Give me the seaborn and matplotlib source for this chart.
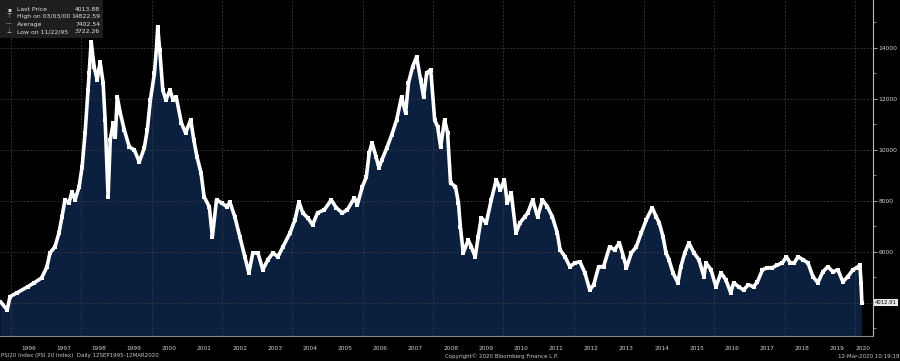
import matplotlib
matplotlib.use("Agg")
import matplotlib.pyplot as plt
import matplotlib.dates as mdates
from matplotlib.patches import Rectangle
import seaborn as sns
import pandas as pd

# ---------------- data ----------------
dates = [
    "1995-09-12", "1995-11-22", "1995-12-20", "1996-03-04", "1996-06-21", "1996-08-29", "1996-11-14",
    "1997-01-08", "1997-02-08", "1997-04-01", "1997-05-13", "1997-06-13", "1997-07-14", "1997-08-25",
    "1997-09-25", "1997-10-27", "1997-12-08",
    "1998-01-08", "1998-02-08", "1998-03-11", "1998-03-22", "1998-04-12", "1998-05-13", "1998-06-13",
    "1998-07-14", "1998-08-14", "1998-09-04", "1998-10-05", "1998-10-27", "1998-11-27", "1998-12-18",
    "1999-01-08", "1999-02-08", "1999-03-22", "1999-05-13", "1999-07-04", "1999-08-25", "1999-10-16",
    "1999-11-16", "1999-12-18",
    "2000-01-29", "2000-02-20", "2000-03-03", "2000-03-24", "2000-04-25", "2000-05-27", "2000-07-09",
    "2000-08-10", "2000-09-11", "2000-11-04", "2000-12-17",
    "2001-02-09", "2001-03-13", "2001-04-15", "2001-05-27", "2001-06-28", "2001-08-21", "2001-09-22",
    "2001-11-04", "2001-12-28",
    "2002-02-19", "2002-03-22", "2002-05-13", "2002-07-04", "2002-08-25", "2002-10-06", "2002-11-16",
    "2003-01-08", "2003-02-28", "2003-04-21", "2003-06-13", "2003-08-04", "2003-09-25", "2003-12-08",
    "2004-01-28", "2004-03-09", "2004-04-18", "2004-06-08", "2004-07-29", "2004-09-18", "2004-11-28",
    "2005-02-08", "2005-04-01", "2005-06-03", "2005-07-25", "2005-10-06", "2005-11-06", "2005-12-28",
    "2006-02-07", "2006-03-09", "2006-04-08", "2006-05-19", "2006-06-18", "2006-07-19", "2006-09-08",
    "2006-10-29", "2006-12-19",
    "2007-02-08", "2007-03-22", "2007-04-21", "2007-06-03", "2007-07-14", "2007-08-25", "2007-09-25",
    "2007-10-27", "2007-12-08",
    "2008-01-18", "2008-02-18", "2008-03-20", "2008-04-30", "2008-05-31", "2008-07-01", "2008-08-21",
    "2008-09-21", "2008-10-11", "2008-11-10",
    "2009-01-01", "2009-02-01", "2009-03-14", "2009-04-14", "2009-05-16", "2009-07-07", "2009-08-28",
    "2009-10-19", "2009-11-30",
    "2010-01-11", "2010-02-10", "2010-03-23", "2010-05-12", "2010-06-22", "2010-08-12", "2010-09-11",
    "2010-11-01", "2010-12-22",
    "2011-02-11", "2011-04-03", "2011-05-24", "2011-07-14", "2011-08-13", "2011-10-03", "2011-11-23",
    "2012-01-14", "2012-03-06", "2012-04-26", "2012-06-16", "2012-07-27", "2012-09-16", "2012-11-06",
    "2013-01-08", "2013-02-28", "2013-04-20", "2013-06-01", "2013-07-02", "2013-08-22", "2013-10-12",
    "2013-12-03",
    "2014-01-24", "2014-03-27", "2014-05-07", "2014-06-07", "2014-07-17", "2014-08-17", "2014-09-17",
    "2014-10-28", "2014-12-18",
    "2015-01-18", "2015-02-28", "2015-04-12", "2015-06-03", "2015-07-25", "2015-09-15", "2015-10-06",
    "2015-11-27",
    "2016-01-18", "2016-03-09", "2016-04-29", "2016-06-19", "2016-07-20", "2016-09-09", "2016-10-30",
    "2016-12-20",
    "2017-02-11", "2017-03-24", "2017-05-15", "2017-07-05", "2017-08-26", "2017-10-17", "2017-12-08",
    "2018-01-18", "2018-02-28", "2018-04-10", "2018-05-20", "2018-07-10", "2018-08-30", "2018-10-21",
    "2018-12-11",
    "2019-02-01", "2019-03-25", "2019-05-16", "2019-07-07", "2019-08-28", "2019-10-19", "2019-12-10",
    "2020-01-21", "2020-02-21", "2020-03-04", "2020-03-12",
]
values = [
    4050, 3722, 4240, 4400, 4630, 4790, 4980,
    5420, 5960, 6200, 6750, 7380, 8040, 7920,
    8360, 8040, 8560,
    9340, 10670, 12350, 13000, 14240, 13260, 12750,
    13450, 12630, 11180, 8160, 10390, 11060, 10510,
    12080, 11450, 10790, 10120, 10000, 9530, 10080,
    10790, 11960,
    13000, 14040, 14822, 13920, 12350, 11960, 12350,
    11960, 12080, 11060, 10670,
    11180, 10390, 9730, 9100, 8160, 7770, 6600,
    8040, 7920,
    7770, 7960, 7380, 6600, 5810, 5180, 5960,
    5960, 5300, 5690, 5960, 5810, 6200, 6750,
    7260, 7960, 7530, 7340, 7060, 7530, 7650,
    8040, 7730, 7530, 7650, 8120, 7850, 8560,
    8940, 9880, 10280, 9730, 9300, 9610, 10080,
    10590, 11180,
    12080, 11450, 12630, 13260, 13650, 12750, 12080,
    13020, 13140,
    11180, 10900, 10120, 11180, 10670, 8700, 8560,
    7920, 6980, 5960,
    6470, 6200, 5810, 6590, 7340, 7140, 8040,
    8830, 8430,
    8830, 7920, 8310, 6750, 7140, 7380, 7530,
    8040, 7380,
    8040, 7770, 7380, 6750, 6080, 5810, 5420,
    5570, 5610, 5180, 4510, 4710, 5420, 5420,
    6200, 6080, 6350, 5810, 5380, 5960, 6200,
    6750,
    7260, 7730, 7380, 7140, 6600, 5960, 5690,
    5180, 4790,
    5420, 5960, 6350, 5960, 5690, 5030, 5570,
    5300,
    4630, 5180, 4910, 4400, 4790, 4630, 4510,
    4710,
    4630, 4830, 5300, 5380, 5380, 5490, 5570,
    5810, 5570, 5570, 5810, 5690, 5570, 5030,
    4790,
    5220, 5420, 5220, 5300, 4830, 5030, 5300,
    5380, 5490, 4790, 4013.88,
]

y_ticks = [6000, 8000, 10000, 12000, 14000]
y_grid = [4000, 6000, 8000, 10000, 12000, 14000]
y_minor = [3000, 5000, 7000, 9000, 11000, 13000, 15000]
years = list(range(1996, 2021))
year_labels = [str(y) for y in years]

legend_names = ["Last Price", "High on 03/03/00", "Average", "Low on 11/22/95"]
legend_values = ["4013.88", "14822.59", "7402.54", "3722.26"]
legend_icons = ["\u25aa", "\u22a4", "\u2014", "\u22a5"]
last_label = "4012.91"
footer_left = "PSI20 Index (PSI 20 Index)  Daily 12SEP1995-12MAR2020"
footer_mid = "Copyright\u00a9 2020 Bloomberg Finance L.P."
footer_right = "12-Mar-2020 10:19:18"

# ---------------- figure ----------------
sns.set_style("dark")
plt.rcParams["font.family"] = ["DejaVu Sans"]

W, H = 900, 361
fig = plt.figure(figsize=(W / 100, H / 100), dpi=100, facecolor="black")
ax = fig.add_axes([0, (H - 336) / H, 873 / W, 336 / H])
ax.set_facecolor("black")

df = pd.DataFrame({"date": pd.to_datetime(dates), "value": values})

ax.fill_between(df["date"], df["value"], 0, color="#0b1f3e", lw=0, zorder=1)

# grid
for g in y_grid:
    ax.axhline(g, color="#3e3e3e", lw=0.6, ls=(0, (2, 2)), zorder=2)
for y in years:
    if y % 2 == 0:
        ax.axvline(pd.Timestamp(f"{y}-01-01"), color="#3e3e3e", lw=0.6, ls=(0, (2, 2)), zorder=2)

sns.lineplot(data=df, x="date", y="value", ax=ax, color="white", lw=2.6,
             marker="s", markersize=2.4, markeredgewidth=0, zorder=3)

ax.set_xlim(pd.Timestamp("1995-09-08"), pd.Timestamp("2020-07-06"))
ax.set_ylim(2700, 15880)
ax.set_xlabel("")
ax.set_ylabel("")

# y axis on the right
ax.yaxis.tick_right()
ax.set_yticks(y_ticks)
ax.set_yticklabels([str(v) for v in y_ticks])
ax.set_yticks(y_minor, minor=True)
ax.tick_params(axis="y", which="major", direction="out", length=3, width=0.6,
               color="#bbbbbb", labelcolor="#d8d8d8", labelsize=4.3, pad=1)
ax.tick_params(axis="y", which="minor", direction="out", length=2, width=0.5, color="#bbbbbb")

# x axis: year boundary ticks + mid-year labels
ax.set_xticks([pd.Timestamp(f"{y}-01-01") for y in years])
ax.set_xticklabels([""] * len(years))
label_pos = [pd.Timestamp(f"{y}-07-02") for y in years[:-1]] + [pd.Timestamp("2020-03-28")]
ax.set_xticks(label_pos, minor=True)
ax.set_xticklabels(year_labels, minor=True)
ax.tick_params(axis="x", which="major", direction="out", length=12, width=0.6, color="#555555")
ax.tick_params(axis="x", which="minor", length=0, labelcolor="#d0d0d0", labelsize=4.2, pad=7)

for s in ["left", "top"]:
    ax.spines[s].set_visible(False)
ax.spines["right"].set_color("#bbbbbb")
ax.spines["right"].set_linewidth(0.8)
ax.spines["bottom"].set_color("#8a8a8a")
ax.spines["bottom"].set_linewidth(0.8)
ax.grid(False)

# last price box on right axis
ax.annotate(last_label, xy=(1.0, 4013.88), xycoords=("axes fraction", "data"),
            xytext=(1.6, 0), textcoords="offset points", va="center", ha="left",
            fontsize=3.8, color="black",
            bbox=dict(boxstyle="square,pad=0.15", fc="#e8e8e8", ec="none"),
            annotation_clip=False)

# legend box (top left)
fig.patches.append(Rectangle((0, 1 - 38 / H), 103 / W, 38 / H, transform=fig.transFigure,
                             facecolor="#1e1e1e", edgecolor="none", zorder=5))
row_y = [9.3, 16.7, 24.3, 31.7]
for icon, name, val, yy in zip(legend_icons, legend_names, legend_values, row_y):
    fig.text(9 / W, 1 - yy / H, icon, color="#cfcfcf", fontsize=4.2, va="center", ha="center", zorder=6)
    fig.text(17 / W, 1 - yy / H, name, color="#e0e0e0", fontsize=4.4, va="center", ha="left", zorder=6)
    fig.text(100 / W, 1 - yy / H, val, color="#e0e0e0", fontsize=4.4, va="center", ha="right", zorder=6)

# footer
fig.text(1 / W, 1 - 356 / H, footer_left, color="#c8c8c8", fontsize=4.0, va="center", ha="left")
fig.text(445 / W, 1 - 356 / H, footer_mid, color="#c8c8c8", fontsize=4.0, va="center", ha="left")
fig.text(899 / W, 1 - 356 / H, footer_right, color="#c8c8c8", fontsize=4.0, va="center", ha="right")

fig.savefig("out.png", dpi=100, facecolor="black")
